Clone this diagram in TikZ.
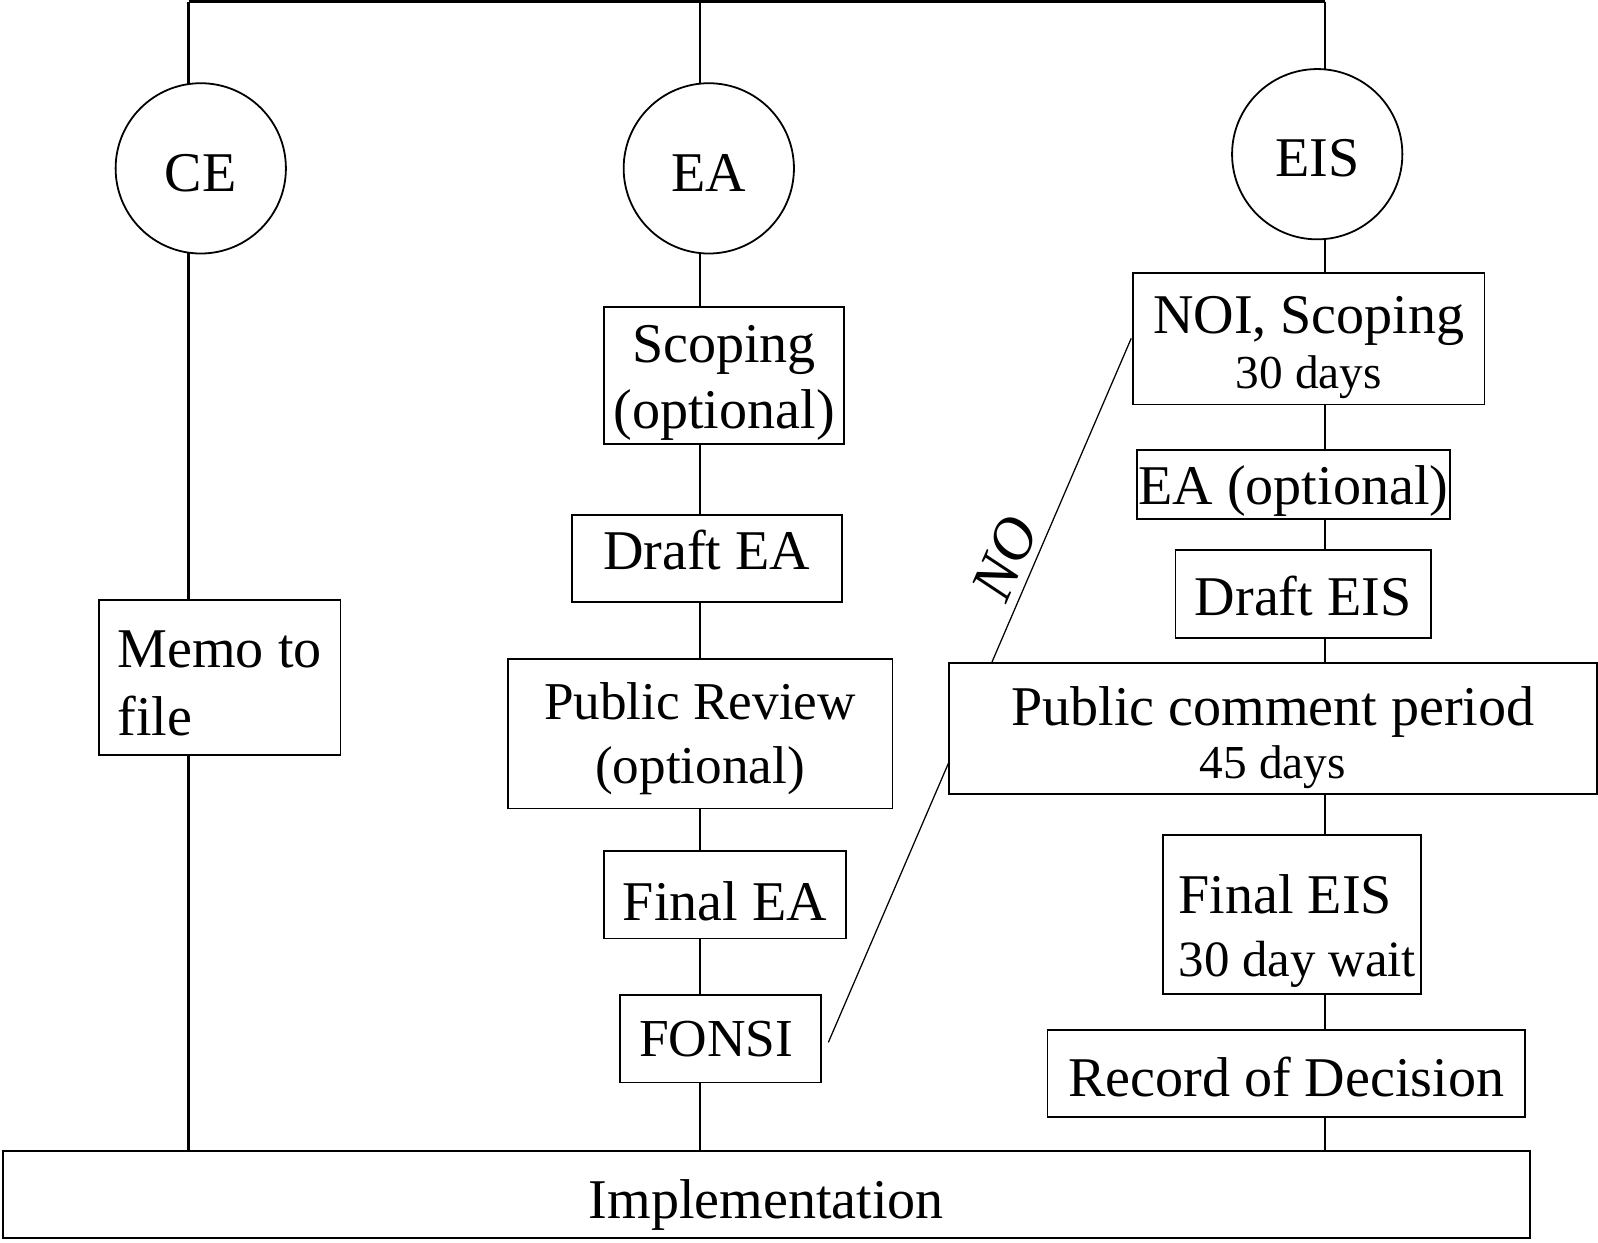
\documentclass[tikz,border=0pt]{standalone}
\usepackage{fontspec}
\setmainfont{Liberation Serif}
\usetikzlibrary{backgrounds}
\newcommand\fsz[2]{\fontsize{#1}{#2}\selectfont}
\begin{document}
\begin{tikzpicture}[x=0.01cm,y=-0.01cm,
  box/.style={draw, line width=0.5pt, fill=white, rectangle, inner sep=0pt, text depth=0pt, font=\fsz{15.65}{18}},
  circ/.style={draw, line width=0.5pt, fill=white, circle, inner sep=0pt, minimum size=1.67cm, text depth=0pt, font=\fsz{15.65}{18}},
  conn/.style={line width=0.6pt},
  topline/.style={line width=1pt},
  noline/.style={line width=0.35pt},
]
\useasboundingbox (0,0) rectangle (1568,1218.7);
\coordinate (topL) at (185,1.5);
\coordinate (topM) at (687,1.5);
\coordinate (topR) at (1300,1.5);

% circles
\node[circ, text height=0.458cm] (ce) at (197,165.2) {CE};
\node[circ, text height=0.458cm] (ea) at (695.5,165.2) {EA};
\node[circ, text height=0.442cm] (eis) at (1292.5,151.3) {EIS};

% CE column
\node[box, minimum width=2.37cm, minimum height=1.515cm, text height=1.13cm] (memo) at (215.5,664.7)
  {\fsz{15.65}{18.78}\begin{tabular}[b]{@{}l@{}}Memo to\\file\end{tabular}};

% EA column
\node[box, minimum width=2.355cm, minimum height=1.347cm, text height=1.038cm] (scoping) at (710.5,368.4)
  {\fsz{15.65}{18.5}\begin{tabular}[b]{@{}c@{}}Scoping\\(optional)\end{tabular}};
\node[box, minimum width=2.65cm, minimum height=0.853cm, text height=0.214cm] (draftea) at (693.5,548) {Draft EA};
\node[box, minimum width=3.774cm, minimum height=1.466cm, text height=0.974cm] (pubrev) at (686.9,719.9)
  {\fsz{14.85}{17.9}\begin{tabular}[b]{@{}c@{}}Public Review\\(optional)\end{tabular}};
\node[box, minimum width=2.374cm, minimum height=0.857cm, text height=0.51cm] (finalea) at (711.4,877.9) {Final EA};
\node[box, minimum width=1.969cm, minimum height=0.857cm, text height=0.34cm] (fonsi) at (706.9,1019.2)
  {\fsz{14.9}{18}FONSI\kern0.08cm};

% EIS column
\node[box, minimum width=3.445cm, minimum height=1.286cm, text height=0.97cm] (noi) at (1284.3,332.5)
  {\fsz{15.65}{15.17}\begin{tabular}[b]{@{}c@{}}NOI, Scoping\\{\fsz{13.2}{15.17}30 days}\end{tabular}};
\node[box, minimum width=3.074cm, minimum height=0.677cm, text height=0.39cm] (eaopt) at (1269.1,475.5) {EA (optional)};
\node[box, minimum width=2.502cm, minimum height=0.86cm, text height=0.416cm] (drafteis) at (1278.7,582.7) {Draft EIS};
\node[box, minimum width=6.356cm, minimum height=1.292cm, text height=0.978cm] (pubcom) at (1249,714.8)
  {\fsz{15.65}{14.88}\begin{tabular}[b]{@{}c@{}}Public comment period\\{\fsz{13.2}{14.88}45 days}\end{tabular}};
\node[box, minimum width=2.53cm, minimum height=1.56cm, text height=1.22cm] (finaleis) at (1267.5,897)
  {\fsz{15.65}{17.64}\begin{tabular}[b]{@{\hskip 0.11cm}l@{}}Final EIS\\{\fsz{14.2}{17.64}30 day wait}\end{tabular}};
\node[box, minimum width=4.68cm, minimum height=0.851cm, text height=0.458cm] (rod) at (1262,1053.2) {Record of Decision};

% bottom
\node[box, minimum width=14.98cm, minimum height=0.857cm, text height=0.466cm] (impl) at (752,1172.2) {Implementation};

% NO link
\coordinate (noA) at (812.8,1022.8);
\coordinate (noB) at (1110,332);
\node[font=\fsz{16.8}{18}\itshape, rotate=66.5, inner sep=0pt] (nolbl) at (986,548) {NO};

\begin{scope}[on background layer]
  \draw[topline] (topL) -- (topR);
  \draw[conn] (topL) -- (topL |- ce.center) -- (topL |- memo.center) -- (topL |- impl.center);
  \draw[conn] (topM) -- (topM |- ea.center) -- (topM |- scoping.center) -- (topM |- draftea.center)
    -- (topM |- pubrev.center) -- (topM |- finalea.center) -- (topM |- fonsi.center) -- (topM |- impl.center);
  \draw[conn] (topR) -- (topR |- eis.center) -- (topR |- noi.center) -- (topR |- eaopt.center)
    -- (topR |- drafteis.center) -- (topR |- pubcom.center) -- (topR |- finaleis.center)
    -- (topR |- rod.center) -- (topR |- impl.center);
  \draw[noline] (noA) -- (noB);
\end{scope}
\end{tikzpicture}
\end{document}
